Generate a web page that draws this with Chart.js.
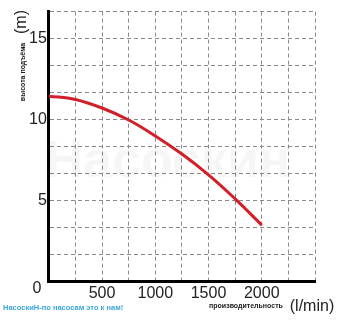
<!DOCTYPE html>
<html>
<head>
<meta charset="utf-8">
<script src="https://cdn.jsdelivr.net/npm/chart.js@4"></script>
<style>
  html, body { margin: 0; padding: 0; background: #fff; }
  #wrap { width: 346px; height: 325px; position: relative; }
</style>
</head>
<body>
<div id="wrap"><canvas id="pumpChart"></canvas></div>
<script>
  // расход (l/min) и напор (m)
  const flow = [0, 250, 500, 750, 1000, 1250, 1500, 1750, 2000];
  const head = [11.45, 11.25, 10.72, 9.98, 9.0, 7.88, 6.6, 5.12, 3.5];
  const xTickLabels = [500, 1000, 1500, 2000];
  const yTickLabels = [5, 10, 15];

  const textPlugin = {
    id: 'texts',
    beforeDatasetsDraw(chart) {
      const c = chart.ctx;
      c.save();
      c.fillStyle = 'rgba(0,0,0,0.035)';
      c.font = 'bold 52px "Liberation Sans", Arial, sans-serif';
      c.textAlign = 'center';
      c.textBaseline = 'middle';
      c.fillText('Насоскин', 168, 163);
      c.font = '9px "Liberation Sans", Arial, sans-serif';
      c.fillText('по насосам - это к нам!', 205, 205);
      c.restore();
    },
    afterDraw(chart) {
      const c = chart.ctx;
      c.save();
      c.fillStyle = '#222';
      c.textAlign = 'center';
      c.textBaseline = 'middle';
      c.font = '16px "Liberation Sans", Arial, sans-serif';
      c.fillText('0', 37, 289);
      c.fillText('(l/min)', 312, 307);

      c.save();
      c.translate(22, 22);
      c.rotate(-Math.PI / 2);
      c.fillText('(m)', 0, 0);
      c.restore();

      c.font = 'bold 7px "Liberation Sans", Arial, sans-serif';
      c.save();
      c.translate(23, 72);
      c.rotate(-Math.PI / 2);
      c.fillText('высота подъёма', 0, 0);
      c.restore();

      c.fillText('производительность', 246, 306);

      c.fillStyle = '#3aa6d8';
      c.textAlign = 'left';
      c.font = 'bold 7.5px "Liberation Sans", Arial, sans-serif';
      c.fillText('НасоскиН-по насосам это к нам!', 3, 308);
      c.restore();
    }
  };

  const ctx = document.getElementById('pumpChart');

  new Chart(ctx, {
    type: 'line',
    data: {
      datasets: [{
        data: flow.map((x, i) => ({ x: x, y: head[i] })),
        borderColor: '#d0202a',
        borderWidth: 3,
        pointRadius: 0,
        fill: false,
        tension: 0.4
      }]
    },
    options: {
      responsive: true,
      maintainAspectRatio: false,
      animation: false,
      layout: { padding: { left: 27, right: 31, top: 8, bottom: 20 } },
      plugins: { legend: { display: false }, tooltip: { enabled: false } },
      scales: {
        x: {
          type: 'linear',
          min: 0,
          max: 2500,
          ticks: {
            stepSize: 250,
            autoSkip: false,
            maxRotation: 0,
            padding: 2,
            color: '#222',
            font: { size: 16, family: '"Liberation Sans", Arial, sans-serif' },
            callback: v => xTickLabels.includes(v) ? String(v) : ''
          },
          grid: { color: '#8a8a8a', lineWidth: 1, drawTicks: false },
          border: { color: '#000', width: 3, dash: [4, 3] }
        },
        y: {
          min: 0,
          max: 50 / 3,
          ticks: {
            stepSize: 5 / 3,
            autoSkip: false,
            padding: 2,
            color: '#222',
            font: { size: 16, family: '"Liberation Sans", Arial, sans-serif' },
            callback: v => {
              const r = Math.round(v);
              return (Math.abs(v - r) < 0.01 && yTickLabels.includes(r)) ? String(r) : '';
            }
          },
          grid: { color: '#8a8a8a', lineWidth: 1, drawTicks: false },
          border: { color: '#000', width: 3, dash: [4, 3] }
        }
      }
    },
    plugins: [textPlugin]
  });
</script>
</body>
</html>
